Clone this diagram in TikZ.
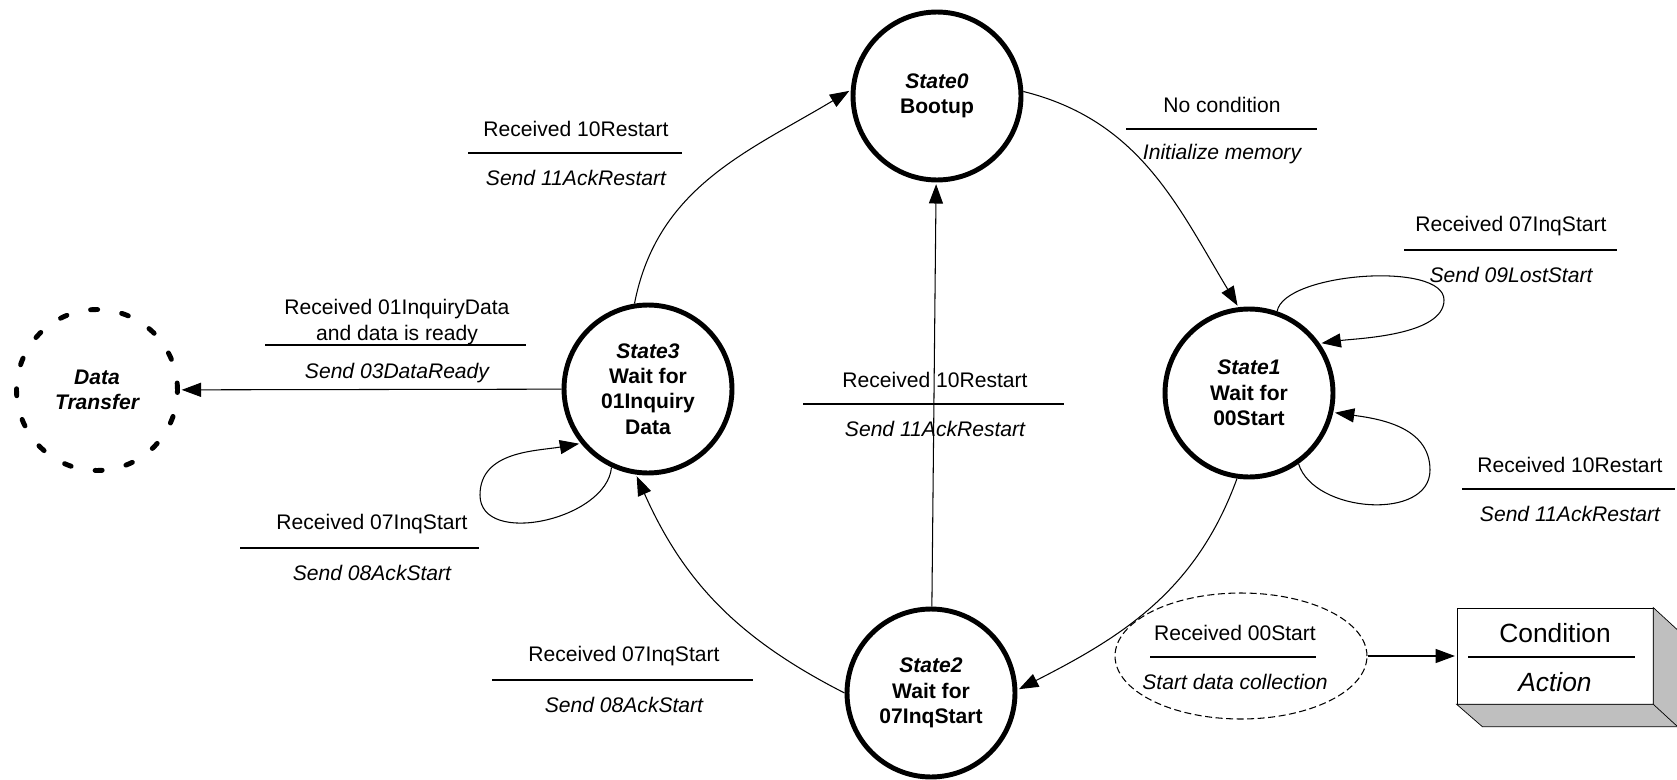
\documentclass[tikz,border=0pt]{standalone}
\usepackage{fontspec}
\setmainfont{Liberation Sans}
\usetikzlibrary{arrows.meta,shapes.geometric,positioning}

\newcommand{\lblfont}{\fontsize{12}{14.5}\selectfont}
% condition above the rule, action below it
\newcommand{\translabel}[7]{%
  \node[lbl] (#1c) at (#2,#3+24) {#6};
  \draw[-] (#4,#3) -- (#5,#3);
  \node[lbl,font=\lblfont\itshape] (#1a) at (#2,#3-25) {#7};}

\begin{document}
\begin{tikzpicture}[x=0.02cm,y=0.02cm,->,>={Triangle[length=11pt,width=8pt]},
                    shorten >=1pt,semithick,
                    state/.style={circle,draw,line width=2.8pt,minimum size=3.36cm,
                                  inner sep=0pt,align=center,font=\lblfont\bfseries},
                    extstate/.style={circle,draw,line width=2.8pt,line cap=round,
                                  dash pattern=on 4pt off 13.9pt,minimum size=3.22cm,
                                  inner sep=0pt,align=center,font=\lblfont\bfseries\itshape},
                    cloud/.style={ellipse,draw,semithick,dash pattern=on 4pt off 2pt,
                                  minimum width=5.04cm,minimum height=2.52cm},
                    keybox/.style={rectangle,draw,thin,fill=white,
                                  minimum width=3.92cm,minimum height=1.92cm},
                    lbl/.style={inner sep=0pt,align=center,font=\lblfont}]
  \useasboundingbox (0,0) rectangle (1677,779);

  \node[state]    (s0)   at (937,683)  {\textit{State0}\\Bootup};
  \node[state]    (s1)   at (1249,386) {\textit{State1}\\Wait for\\00Start};
  \node[state]    (s2)   at (931,86)   {\textit{State2}\\Wait for\\07InqStart};
  \node[state]    (s3)   at (648,390)  {\textit{State3}\\Wait for\\01Inquiry\\Data};
  \node[extstate] (dt)   at (97,389)   {Data\\Transfer};
  \node[cloud]    (cond) at (1241,123) {};
  \node[keybox]   (key)  at (1555,123) {};

  \path (s0.3)   edge[out=-14,in=121] (s1.97)
        (s1.262) edge[out=-110,in=27] (s2.2)
        (s2)     edge                 (s0)
        (s2.180) edge[out=153,in=-66] (s3.262)
        (s3.99)  edge[out=79,in=211]  (s0.176)
        (s3)     edge                 (dt)
        (cond)   edge                 (key);

  % self loops
  \draw (s3.245) to[out=-95,in=-90] (480,284) to[out=90,in=190] (s3.219);
  \draw (s1.71) to[out=80,in=90,looseness=0.6] (1444,479)
                to[out=-90,in=8,looseness=0.7] (s1.35);
  \draw (s1.-55) to[out=-73,in=-90] (1430,309) to[out=90,in=-8] (s1.-13);

  \translabel{l01}{1222}{650}{1126}{1319}{No condition}{Initialize memory}
  \translabel{l30}{576}{626}{468}{684}{Received 10Restart}{Send 11AckRestart}
  \translabel{l20}{935}{375}{803}{1066}{Received 10Restart}{Send 11AckRestart}
  \translabel{l33}{372}{231}{240}{481}{Received 07InqStart}{Send 08AckStart}
  \translabel{l23}{624}{99}{492}{755}{Received 07InqStart}{Send 08AckStart}
  \translabel{l11}{1511}{529}{1404}{1619}{Received 07InqStart}{Send 09LostStart}
  \translabel{l11r}{1570}{290}{1462}{1677}{Received 10Restart}{Send 11AckRestart}
  \translabel{l12}{1235}{122}{1150}{1318}{Received 00Start}{Start data collection}

  \node[lbl] (l3dc) at (397,457) {Received 01InquiryData\\and data is ready};
  \draw[-] (265,434) -- (528,434);
  \node[lbl,font=\lblfont\itshape] (l3da) at (397,406) {Send 03DataReady};

  % legend box
  \filldraw[-,thin,fill=gray!50] (key.north east) -- ++(25,-23) -- ++(0,-96) -- ++(-196,0)
           -- (key.south west) -- (key.south east) -- cycle;
  \draw[-,thin] (key.south east) -- ++(25,-23);
  \node[lbl,font=\fontsize{15}{17}\selectfont] (kc) at (1555,146) {Condition};
  \draw[-] (1468,122) -- (1637,122);
  \node[lbl,font=\fontsize{15}{17}\selectfont\itshape] (ka) at (1555,97) {Action};
\end{tikzpicture}
\end{document}
